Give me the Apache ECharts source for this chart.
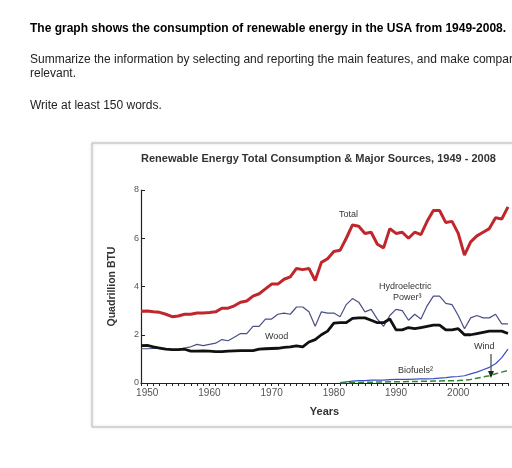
<!DOCTYPE html>
<html>
<head>
<meta charset="utf-8">
<script src="https://cdn.jsdelivr.net/npm/echarts@6/dist/echarts.min.js"></script>
<style>
  html, body { margin: 0; padding: 0; background: #fff; overflow: hidden; }
  #chart { width: 512px; height: 468px; }
</style>
</head>
<body>
<div id="chart"></div>
<script>
// years 1949 - 2008
const years = [];
for (let y = 1949; y <= 2008; y++) years.push(String(y));

const total = [2.97, 2.98, 2.95, 2.93, 2.85, 2.75, 2.78, 2.85, 2.85, 2.9, 2.9, 2.92, 2.95, 3.1, 3.1, 3.2, 3.35, 3.4, 3.6, 3.7,
  3.9, 4.1, 4.1, 4.3, 4.4, 4.75, 4.7, 4.75, 4.25, 5.0, 5.15, 5.45, 5.5, 6.0, 6.55, 6.5, 6.2, 6.25, 5.75, 5.6,
  6.4, 6.2, 6.25, 6.0, 6.25, 6.15, 6.7, 7.15, 7.15, 6.65, 6.7, 6.2, 5.3, 5.85, 6.1, 6.25, 6.4, 6.85, 6.8, 7.3];
const hydro = [1.42, 1.42, 1.43, 1.43, 1.4, 1.38, 1.4, 1.45, 1.5, 1.6, 1.55, 1.6, 1.65, 1.8, 1.75, 1.9, 2.05, 2.05, 2.35, 2.35,
  2.65, 2.65, 2.85, 2.9, 2.85, 3.15, 3.15, 2.95, 2.35, 2.95, 2.9, 2.9, 2.75, 3.25, 3.5, 3.35, 2.95, 3.05, 2.65, 2.35,
  2.8, 3.05, 3.0, 2.6, 2.85, 2.65, 3.2, 3.6, 3.6, 3.3, 3.25, 2.8, 2.25, 2.7, 2.8, 2.7, 2.7, 2.85, 2.45, 2.45];
const wood = [1.55, 1.56, 1.5, 1.45, 1.4, 1.38, 1.38, 1.4, 1.32, 1.32, 1.33, 1.32, 1.3, 1.3, 1.32, 1.33, 1.34, 1.34, 1.34, 1.4,
  1.42, 1.43, 1.44, 1.48, 1.5, 1.54, 1.5, 1.7, 1.8, 2.0, 2.15, 2.48, 2.5, 2.5, 2.68, 2.7, 2.7, 2.6, 2.5, 2.5,
  2.65, 2.2, 2.2, 2.3, 2.25, 2.3, 2.35, 2.4, 2.4, 2.2, 2.2, 2.25, 2.0, 2.0, 2.05, 2.1, 2.15, 2.15, 2.15, 2.05];
const wind = Array(32).fill(null).concat([0.02, 0.05, 0.08, 0.1, 0.1, 0.12, 0.12, 0.12, 0.14, 0.15, 0.15, 0.15, 0.16, 0.17,
  0.17, 0.18, 0.2, 0.22, 0.25, 0.27, 0.3, 0.38, 0.45, 0.55, 0.65, 0.8, 1.05, 1.4]);
const biofuels = Array(32).fill(null).concat([0.0, 0.01, 0.02, 0.02, 0.03, 0.03, 0.04, 0.04, 0.05, 0.05, 0.05, 0.06, 0.06, 0.07,
  0.07, 0.08, 0.08, 0.09, 0.09, 0.1, 0.12, 0.15, 0.2, 0.25, 0.3, 0.38, 0.45, 0.52]);

const chart = echarts.init(document.getElementById('chart'));
const font = 'Liberation Sans, Arial, sans-serif';
const txt = (x, y, s, o) => Object.assign({ type: 'text', left: x, top: y, style: Object.assign({ text: s, fill: '#222', font: '12px ' + font }, o || {}) });

chart.setOption({
  animation: false,
  grid: { left: 141, right: 4, top: 190, bottom: 85 },
  xAxis: {
    type: 'category', data: years, boundaryGap: false,
    axisLine: { lineStyle: { color: '#222', width: 1.2 } },
    axisTick: { show: true, interval: 0, length: 3, lineStyle: { color: '#222' } },
    axisLabel: { interval: (i, v) => Number(v) % 10 === 0, color: '#555', fontSize: 10, fontFamily: font, margin: 5 },
    name: 'Years', nameLocation: 'middle', nameGap: 23,
    nameTextStyle: { fontWeight: 'bold', fontSize: 11, color: '#333', fontFamily: font }
  },
  yAxis: {
    type: 'value', min: 0, max: 8, interval: 2,
    splitLine: { show: false },
    axisLine: { show: true, lineStyle: { color: '#222', width: 1.2 } },
    axisTick: { show: true, inside: true, length: 4, lineStyle: { color: '#222' } },
    axisLabel: { color: '#555', fontSize: 9, fontFamily: font, margin: 2 },
    name: 'Quadrillion BTU', nameLocation: 'middle', nameGap: 23, nameRotate: 90,
    nameTextStyle: { fontWeight: 'bold', fontSize: 10.5, color: '#333', fontFamily: font }
  },
  series: [
    { type: 'line', data: total, symbol: 'none', lineStyle: { color: '#c0272d', width: 3 } },
    { type: 'line', data: hydro, symbol: 'none', lineStyle: { color: '#4a4f86', width: 1.2 } },
    { type: 'line', data: wood, symbol: 'none', lineStyle: { color: '#111', width: 2.8 } },
    { type: 'line', data: wind, symbol: 'none', lineStyle: { color: '#3d4fc4', width: 1.2 } },
    { type: 'line', data: biofuels, symbol: 'none', lineStyle: { color: '#2f8a2f', width: 1.5, type: 'dashed' } }
  ],
  graphic: [
    { type: 'rect', shape: { x: 92, y: 143, width: 440, height: 284 }, style: { fill: 'none', stroke: '#bbb', lineWidth: 1, shadowBlur: 3, shadowColor: 'rgba(0,0,0,0.25)' }, z: -1 },
    txt(30, 23, 'The graph shows the consumption of renewable energy in the USA from 1949-2008.', { font: 'bold 12px ' + font, fill: '#000' }),
    txt(30, 54, 'Summarize the information by selecting and reporting the main features, and make comparisons where', {}),
    txt(30, 68, 'relevant.', {}),
    txt(30, 100, 'Write at least 150 words.', {}),
    txt(141, 153, 'Renewable Energy Total Consumption & Major Sources, 1949 - 2008', { font: 'bold 11px ' + font, fill: '#333' }),
    txt(339, 210, 'Total', { font: '9px ' + font, fill: '#333' }),
    txt(379, 282, 'Hydroelectric', { font: '9px ' + font, fill: '#333' }),
    txt(393, 293, 'Power³', { font: '9px ' + font, fill: '#333' }),
    txt(265, 332, 'Wood', { font: '9px ' + font, fill: '#333' }),
    txt(474, 342, 'Wind', { font: '9px ' + font, fill: '#333' }),
    txt(398, 366, 'Biofuels²', { font: '9px ' + font, fill: '#333' }),
    { type: 'line', shape: { x1: 491, y1: 354, x2: 491, y2: 376 }, style: { stroke: '#222', lineWidth: 1 } },
    { type: 'polygon', shape: { points: [[488, 371], [494, 371], [491, 378]] }, style: { fill: '#222' } }
  ]
});
</script>
</body>
</html>
